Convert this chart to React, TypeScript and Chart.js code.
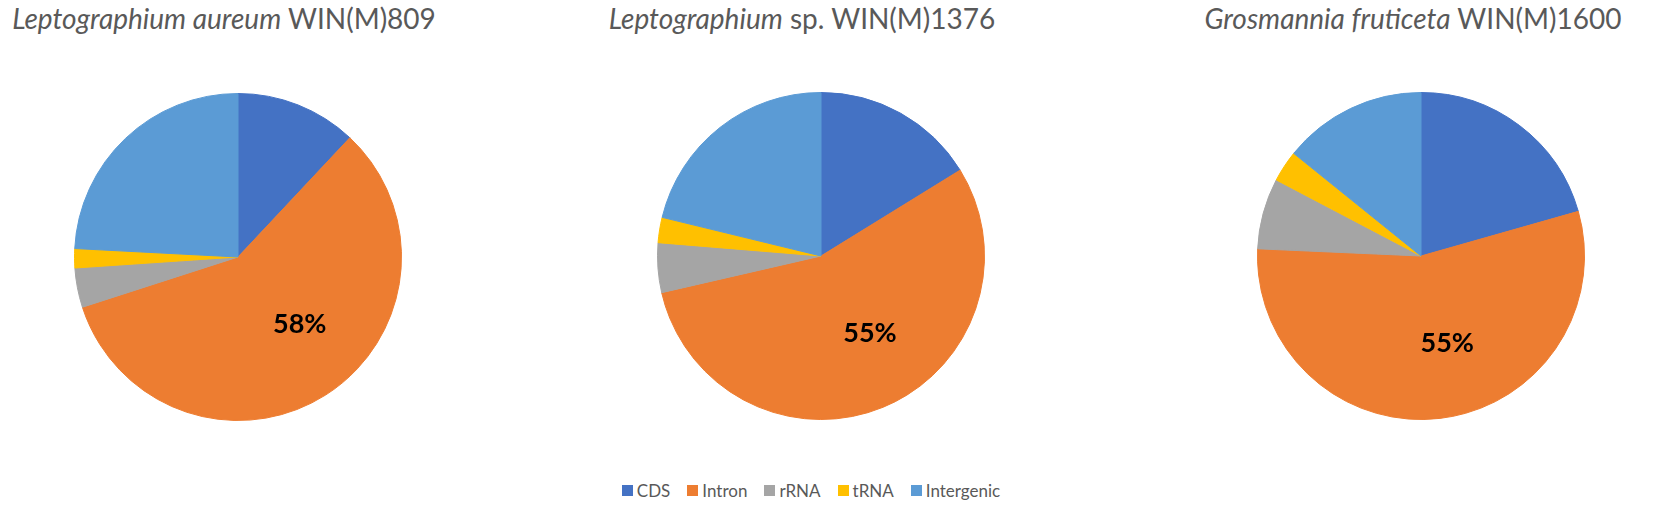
import React, { useEffect, useRef } from "react";
import { Chart, registerables } from "chart.js";

Chart.register(...registerables);

const categories = ["CDS", "Intron", "rRNA", "tRNA", "Intergenic"];
const aureumValues = [12.0, 58.1, 3.9, 1.9, 24.2];
const sp1376Values = [16.2, 55.2, 4.9, 2.5, 21.2];
const fruticetaValues = [20.6, 55.1, 7.0, 3.1, 14.2];
const sliceColors = ["#4472C4", "#ED7D31", "#A5A5A5", "#FFC000", "#5B9BD5"];
const labeledIndex = 1;

const TEXT_COLOR = "#595959";
const FONT = "Lato, 'Open Sans', sans-serif";

const percentLabelPlugin = {
  id: "percentLabel",
  afterDatasetsDraw(chart: any) {
    const meta = chart.getDatasetMeta(0);
    const data = chart.data.datasets[0].data as number[];
    const total = data.reduce((a, b) => a + b, 0);
    const arc = meta.data[labeledIndex] as any;
    if (!arc) return;
    const { x, y, startAngle, endAngle, outerRadius } = arc.getProps(
      ["x", "y", "startAngle", "endAngle", "outerRadius"],
      true
    );
    const mid = (startAngle + endAngle) / 2 - (10 * Math.PI) / 180;
    const d = outerRadius * 0.56;
    const px = x + Math.cos(mid) * d;
    const py = y + Math.sin(mid) * d;
    const ctx = chart.ctx;
    ctx.save();
    ctx.font = `bold 27px ${FONT}`;
    ctx.fillStyle = "#000000";
    ctx.textAlign = "center";
    ctx.textBaseline = "middle";
    ctx.fillText(Math.round((data[labeledIndex] / total) * 100) + "%", px, py);
    ctx.restore();
  },
};

function PieChart(props: { values: number[]; left: number; top: number }) {
  const ref = useRef<HTMLCanvasElement | null>(null);
  useEffect(() => {
    if (!ref.current) return;
    const chart = new Chart(ref.current, {
      type: "pie",
      data: {
        labels: categories,
        datasets: [
          {
            data: props.values,
            backgroundColor: sliceColors,
            borderColor: sliceColors,
            borderWidth: 1,
          },
        ],
      },
      options: {
        responsive: false,
        animation: false,
        devicePixelRatio: 1,
        layout: { padding: 0 },
        plugins: {
          legend: { display: false },
          title: { display: false },
          tooltip: { enabled: false },
        },
      },
      plugins: [percentLabelPlugin],
    });
    return () => chart.destroy();
  }, []);
  return (
    <canvas
      ref={ref}
      width={328}
      height={328}
      style={{ position: "absolute", left: props.left, top: props.top, width: 328, height: 328 }}
    />
  );
}

function Title(props: { italic: string; rest: string; center: number }) {
  return (
    <div
      style={{
        position: "absolute",
        left: props.center - 400,
        width: 800,
        top: 4,
        textAlign: "center",
        fontFamily: FONT,
        fontSize: 28,
        lineHeight: "28px",
        color: TEXT_COLOR,
        whiteSpace: "nowrap",
      }}
    >
      <span style={{ fontStyle: "italic" }}>{props.italic}</span>
      {props.rest}
    </div>
  );
}

export default function App() {
  return (
    <div
      style={{
        position: "fixed",
        left: 0,
        top: 0,
        width: 1654,
        height: 506,
        background: "#ffffff",
        overflow: "hidden",
      }}
    >
      <Title italic="Leptographium aureum" rest=" WIN(M)809" center={224} />
      <Title italic="Leptographium" rest=" sp. WIN(M)1376" center={802} />
      <Title italic="Grosmannia fruticeta" rest=" WIN(M)1600" center={1413} />
      <PieChart values={aureumValues} left={74} top={93} />
      <PieChart values={sp1376Values} left={657} top={92} />
      <PieChart values={fruticetaValues} left={1257} top={92} />
      <div
        style={{
          position: "absolute",
          left: 0,
          width: 1622,
          top: 482,
          display: "flex",
          justifyContent: "center",
          gap: 17,
          fontFamily: FONT,
          fontSize: 17,
          lineHeight: "17px",
          color: TEXT_COLOR,
        }}
      >
        {categories.map((c, i) => (
          <div key={c} style={{ display: "flex", alignItems: "center", gap: 4 }}>
            <span
              style={{
                display: "inline-block",
                width: 11,
                height: 11,
                background: sliceColors[i],
              }}
            />
            <span>{c}</span>
          </div>
        ))}
      </div>
    </div>
  );
}
